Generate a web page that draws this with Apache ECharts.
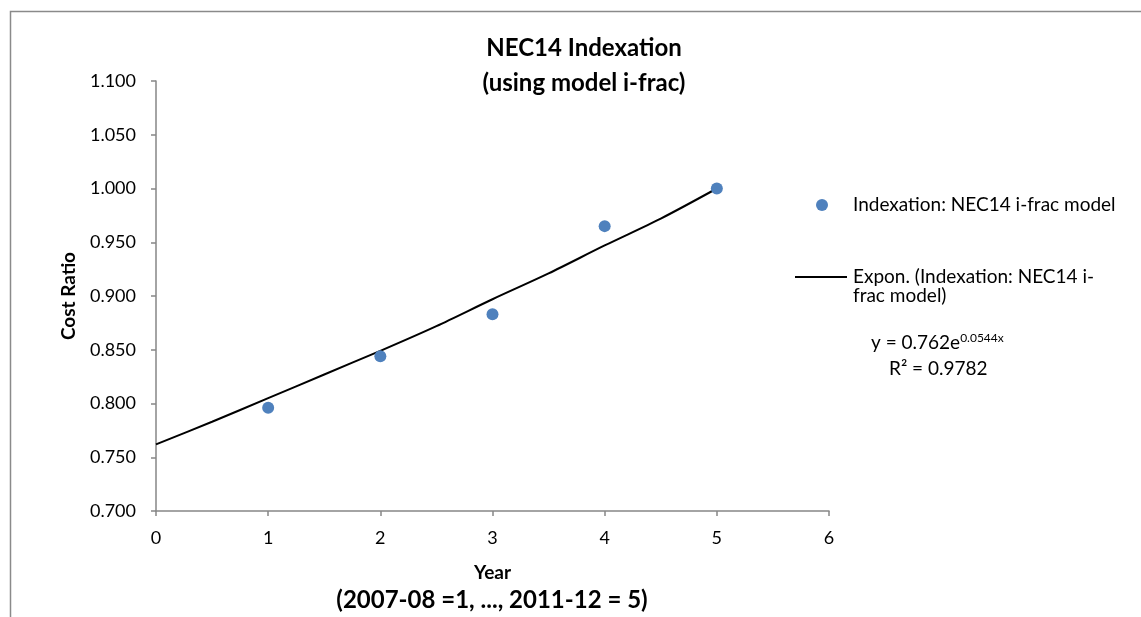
<!DOCTYPE html>
<html>
<head>
<meta charset="utf-8">
<script src="https://cdn.jsdelivr.net/npm/echarts@6/dist/echarts.min.js"></script>
<style>
html,body{margin:0;padding:0;background:#fff;}
#chart{width:1141px;height:617px;}
</style>
</head>
<body>
<div id="chart"></div>
<script>
// Data
var years = [1, 2, 3, 4, 5];
var costRatio = [0.796, 0.844, 0.883, 0.965, 1.000];
// Exponential trendline (x, y)
var trendX = [0, 0.5, 1, 1.5, 2, 2.5, 3, 3.5, 4, 4.5, 5];
var trendY = [0.762, 0.783, 0.805, 0.827, 0.849, 0.872, 0.897, 0.921, 0.947, 0.972, 1.000];
var yTicks = ['0.700','0.750','0.800','0.850','0.900','0.950','1.000','1.050','1.100'];

var scatterName = 'Indexation: NEC14 i-frac model';
var trendName = 'Expon. (Indexation: NEC14 i-frac model)';

var FONT = 'Lato, "Open Sans", sans-serif';
var axisGray = '#868686';

var chart = echarts.init(document.getElementById('chart'), null, {renderer: 'canvas'});
var option = {
  backgroundColor: '#ffffff',
  animation: false,
  title: {
    text: 'NEC14 Indexation\n(using model i-frac)',
    left: 579,
    top: 26,
    textAlign: 'center',
    textStyle: {fontFamily: FONT, fontSize: 24, fontWeight: 'bold', color: '#000', lineHeight: 35}
  },
  grid: {left: 156, right: 312, top: 81, bottom: 106, containLabel: false},
  xAxis: {
    type: 'value', min: 0, max: 6, interval: 1,
    name: 'Year',
    nameLocation: 'middle',
    nameGap: 52,
    nameTextStyle: {fontFamily: FONT, fontSize: 19, fontWeight: 'bold', color: '#000'},
    axisLine: {show: true, lineStyle: {color: axisGray, width: 1.5}},
    axisTick: {show: true, length: 5, lineStyle: {color: axisGray, width: 1.5}},
    axisLabel: {fontFamily: FONT, fontSize: 18, color: '#000', margin: 18},
    splitLine: {show: false}
  },
  yAxis: {
    type: 'value', min: 0.7, max: 1.1, interval: 0.05,
    name: 'Cost Ratio',
    nameLocation: 'middle',
    nameRotate: 90,
    nameGap: 78,
    nameTextStyle: {fontFamily: FONT, fontSize: 19, fontWeight: 'bold', color: '#000'},
    axisLine: {show: true, lineStyle: {color: axisGray, width: 1.5}},
    axisTick: {show: true, length: 5, lineStyle: {color: axisGray, width: 1.5}},
    axisLabel: {
      fontFamily: FONT, fontSize: 18, color: '#000', margin: 20,
      formatter: function (v) {
        var idx = Math.round((v - 0.7) / 0.05);
        return yTicks[idx] !== undefined ? yTicks[idx] : v.toFixed(3);
      }
    },
    splitLine: {show: false}
  },
  series: [
    {
      name: trendName,
      type: 'line',
      data: trendX.map(function (x, i) { return [x, trendY[i]]; }),
      smooth: 0.3,
      symbol: 'none',
      lineStyle: {color: '#000', width: 2},
      z: 2
    },
    {
      name: scatterName,
      type: 'scatter',
      data: years.map(function (x, i) { return [x, costRatio[i]]; }),
      symbol: 'circle',
      symbolSize: 12,
      itemStyle: {color: '#4F81BD', opacity: 1},
      z: 3
    }
  ],
  graphic: [
    {type: 'rect', left: 8, top: 9, shape: {width: 1200, height: 700}, style: {fill: 'none', stroke: '#8a8a8a', lineWidth: 1.5}, silent: true, z: 0},
    {type: 'circle', shape: {cx: 822, cy: 205, r: 6}, style: {fill: '#4F81BD'}},
    {type: 'text', x: 853, y: 205, style: {text: scatterName, font: '19px ' + FONT, fill: '#000', verticalAlign: 'middle'}},
    {type: 'line', shape: {x1: 795, y1: 277, x2: 847, y2: 277}, style: {stroke: '#000', lineWidth: 2}},
    {type: 'text', x: 853, y: 277, style: {text: 'Expon. (Indexation: NEC14 i-', font: '19px ' + FONT, fill: '#000', verticalAlign: 'middle'}},
    {type: 'text', x: 853, y: 296, style: {text: 'frac model)', font: '19px ' + FONT, fill: '#000', verticalAlign: 'middle'}},
    {type: 'text', x: 871, y: 343, style: {
      text: '{n|y = 0.762e}{s|0.0544x}',
      verticalAlign: 'middle',
      rich: {
        n: {fontFamily: FONT, fontSize: 19, fill: '#000', color: '#000'},
        s: {fontFamily: FONT, fontSize: 12, fill: '#000', color: '#000', verticalAlign: 'top', padding: [0,0,10,0]}
      }
    }},
    {type: 'text', x: 889, y: 369, style: {text: 'R\u00B2 = 0.9782', font: '19px ' + FONT, fill: '#000', verticalAlign: 'middle'}},
    {type: 'text', x: 492, y: 600, style: {text: '(2007-08 =1, ..., 2011-12 = 5)', font: 'bold 24px ' + FONT, fill: '#000', align: 'center', verticalAlign: 'middle'}}
  ]
};
chart.setOption(option);
</script>
</body>
</html>
